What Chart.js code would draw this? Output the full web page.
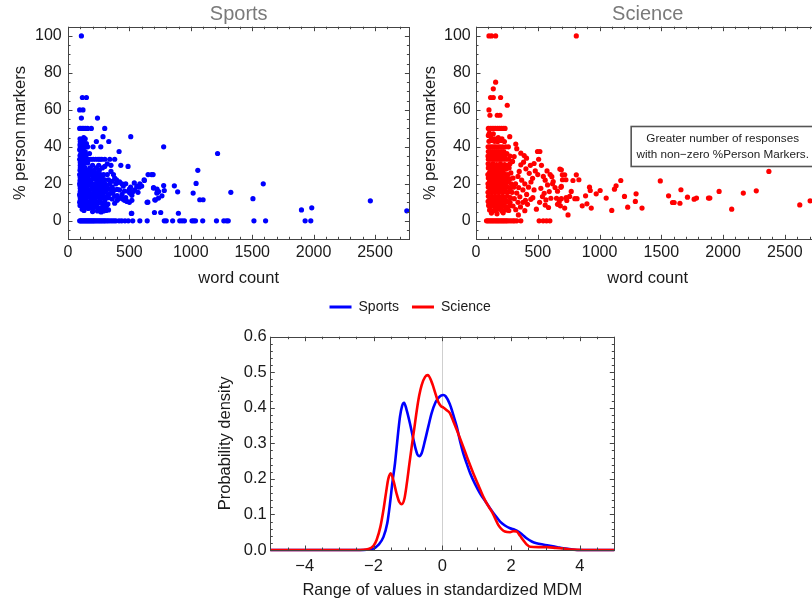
<!DOCTYPE html>
<html>
<head>
<meta charset="utf-8">
<script src="https://cdn.jsdelivr.net/npm/chart.js@4.4.1/dist/chart.umd.min.js"></script>
<style>
html,body{margin:0;padding:0;overflow:hidden;background:#fff;width:812px;height:602px;}
.box{position:absolute;}
canvas{display:block;}
</style>
</head>
<body>
<div class="box" style="left:0;top:0;"><canvas id="c1" width="412" height="300"></canvas></div>
<div class="box" style="left:405px;top:0;"><canvas id="c2" width="417" height="300"></canvas></div>
<div class="box" style="left:206px;top:287px;"><canvas id="c3" width="419" height="315"></canvas></div>
<script>
const FONT = "'Liberation Sans', Arial, sans-serif";

// ---------- data ----------
const wordCountTicks = [0, 500, 1000, 1500, 2000, 2500];
const personPctTicks = [0, 20, 40, 60, 80, 100];
const mdmTicks = [-4, -2, 0, 2, 4];
const densityTicks = [0, 0.1, 0.2, 0.3, 0.4, 0.5, 0.6];
const seriesNames = ['Sports', 'Science'];
const noteLines = ['Greater number of responses', 'with non\u2212zero %Person Markers.'];

// [word count, % person markers]
const sportsPoints = [
 [109,100],
 [117,66.7],[150,66.7],
 [95,60],[122,60],
 [109,55.6],[240,55.6],
 [95,50],[105,50],[118,50],[130,50],[145,50],[160,50],[190,50],[299,50],
 [285,45.5],[128,45],[140,44.4],[511,45.5],[98,44.4],[112,43.5],
 [231,42.9],[332,42.9],[100,42.9],[110,42.9],[125,42.9],[150,41.7],[98,41.2],[125,40.9],
 [204,40],[267,40],[100,40],[115,40],[135,40],[160,40],[779,40],
 [110,38.1],[130,36.8],[416,37.5],[95,38.5],[120,38.5],[140,37.5],[175,36.4],[1218,36.4],[105,36.4],[150,35.7],[98,35.3],[115,35],[135,34.8],
 [95,33.3],[105,33.3],[115,33.3],[125,33.3],[140,33.3],[155,33.3],[170,33.3],[185,33.3],[205,33.3],[225,33.3],[245,33.3],[260,33.3],[275,33.3],[300,33.3],[340,33.3],[380,33.3],
 [100,31.6],[120,31.3],[145,31.8],[430,30],[489,29.4],[299,29.4],[320,30.8],[350,30],[100,30],[130,30.8],[160,31.3],[200,30],[250,30],
 [280,28.6],[230,28.6],[100,28.6],[115,28.6],[140,28.6],[180,28.6],[210,27.3],[255,27.3],[1057,27.3],[98,27.3],[110,26.3],[125,27.8],[140,26.7],[155,27.3],[175,27.3],[190,26.7],[235,26.1],[350,26.7],
 [95,25],[105,25],[115,25],[125,25],[140,25],[155,25],[170,25],[190,25],[215,25],[240,25],[265,25],[290,25],[320,25],[370,25],[652,25],[680,25],[693,25],
 [100,24],[115,23.5],[130,24.2],[145,23.8],[205,23.5],[220,24],[250,23.5],[280,24.1],[380,23.1],[100,23.1],[135,23.5],[165,23.1],[265,22.7],[200,22.7],[230,22.2],[280,22.2],[300,22.2],[330,22.2],[395,22.2],[620,22.2],[622,21.8],
 [98,21.7],[110,22.2],[125,21.4],[140,22.7],[160,22.2],[360,21.4],[410,20.8],[420,21.1],[115,21.4],[150,21.1],[185,21.7],[250,21.7],
 [95,20],[105,20],[120,20],[135,20],[150,20],[165,20],[180,20],[200,20],[220,20],[245,20],[270,20],[300,20],[340,20],[390,20],[440,20],[470,20],[540,20.5],[585,20],[1043,20.2],[1590,20],
 [98,19],[112,18.8],[128,19.4],[142,18.5],[158,19],[190,19],[210,18.2],[230,18.8],[255,19],[280,18.2],[310,17.9],[320,19],[360,18.2],[450,18.8],[510,18.2],[580,18.2],[600,18.8],[560,18.6],[697,18],[696,17.7],[779,19.1],[866,18.9],
 [725,17.1],[784,16.4],[738,15.8],[893,15.7],[1019,15],[1326,15.4],[723,15],[765,13.5],
 [100,17.6],[115,16.7],[130,16.7],[145,17.4],[160,16.7],[175,16.7],[195,17.4],[215,16.7],[235,16.7],[260,17.4],[285,16.7],[315,16.7],[345,17.2],[375,16.7],[400,17],[420,16.7],[460,16.1],[490,16],[500,17.2],[530,15.8],[545,16.7],[570,15.4],
 [100,16],[118,16.2],[135,15.8],[150,16],
 [95,14.3],[110,15],[125,14.3],[140,15.4],[155,14.3],[170,15],[190,14.3],[210,15.4],[230,14.3],[255,15],[275,14.3],[300,15.4],[330,14.3],[350,15],[365,15],[400,13.6],[440,14.3],[503,15],[520,13.8],[180,14.8],
 [98,13.6],[112,13.3],[128,13.8],[142,13.3],[160,14],[200,13.8],[220,13],[245,13.8],[290,13.3],[320,12.9],[380,13.3],
 [100,12.5],[115,12.5],[130,11.8],[145,12.5],[160,13.3],[180,12.5],[200,11.8],[225,12.5],[250,13.3],[275,12.5],[265,12],[300,11.1],[330,12.5],[360,11.8],[400,11.1],[410,12],[430,12.5],[445,11.8],[460,11.1],[470,12.5],[520,11.1],[707,11.4],[737,12.3],[711,11.2],[1073,11.4],[1100,11.4],[1506,12],[2462,10.8],
 [100,11.1],[115,10.5],[130,11.4],[148,11.1],[185,10.5],[205,11.1],[225,10.3],[250,10.5],[480,10.5],
 [95,10],[110,9.1],[125,10],[140,9.5],[160,10],[175,9.1],[195,10],[215,8.7],[235,9.1],[260,10],[270,9.5],[295,9.7],[325,9.1],[380,9.5],[500,10],[644,10],[650,10.1],
 [98,8.3],[112,8.7],[125,8.3],[140,7.4],[155,9.1],[190,8],[230,8.5],[285,7.7],[315,8.3],[150,7.7],[180,7.1],[220,7.7],[240,7.1],
 [115,6.3],[130,5.6],[165,6.7],[205,6.7],[260,6.7],[275,6.5],[300,6.3],[330,5.9],[310,5.6],[290,5.3],[200,5],[240,5.3],[270,4.8],
 [516,4],[519,4.1],[704,4.5],[755,4.5],[899,4.1],[1901,5.9],[1985,7],[2759,5.4],
 [95,0],[103,0],[111,0],[119,0],[127,0],[135,0],[143,0],[151,0],[159,0],[167,0],[175,0],[183,0],[191,0],[199,0],[207,0],[215,0],[225,0],[235,0],[245,0],[255,0],[265,0],[275,0],[285,0],[295,0],[305,0],[318,0],[330,0],[345,0],[360,0],[375,0],[390,0],[416,0],[437,0],[464,0],[491,0],[527,0],[585,0],[645,0],[784,0],[800,0],[852,0],[910,0],[929,0],[948,0],[1010,0],[1024,0],[1038,0],[1097,0],[1209,0],[1269,0],[1291,0],[1305,0],[1514,0],[1609,0],[1931,0],[1977,0]
];

const sciencePoints = [
 [105,100],[126,100],[159,100],[812,100],
 [159,75],[140,71.4],[118,66.7],[140,66.7],[199,66.7],[253,62.5],[105,60],[113,57.1],[172,57.1],[194,57.1],
 [100,50],[115,50],[130,50],[145,50],[160,50],[175,50],[190,50],[205,50],[220,50],[235,50],
 [273,45.5],[100,46.2],[120,45.5],[150,44.4],[180,45],[210,44.4],[108,47.4],[140,47.1],
 [105,43],[125,43.5],[150,43],[175,42.9],[200,43.5],[230,42.9],
 [98,40],[112,40],[128,40],[145,40],[160,40],[178,40],[195,40],[215,40],[240,40],[262,40],
 [100,37.5],[115,37.5],[132,37.5],[150,37.5],[168,37.5],[185,37.5],[205,37.5],[225,37.5],[250,36.4],
 [97,35],[110,35.3],[125,35],[140,35.7],[158,35],[175,35.3],[192,35],[212,35.7],[235,35],[275,35],
 [100,33.3],[114,33.3],[128,33.3],[142,33.3],[156,33.3],[170,33.3],[185,33.3],[200,33.3],[218,33.3],[240,33.3],[265,33.3],[296,32.1],
 [98,30.8],[110,30],[124,30.4],[138,30.8],[152,30],[167,30.4],[182,30],[198,30.8],[215,30],[232,30.4],[252,30],[275,30.8],
 [100,28.6],[115,28],[130,28.6],[145,27.8],[160,28.6],[175,28],[190,28.6],[208,27.8],[225,28.6],[245,28],[268,28.6],
 [96,25],[108,25.9],[120,25],[134,25.9],[148,25],[162,25.9],[176,25],[190,25.9],[206,25],[222,25.9],[240,25],[258,25],[282,25.9],
 [100,23.1],[113,22.7],[127,23.1],[141,22.7],[155,23.1],[170,22.7],[185,23.1],[200,22.7],[217,23.1],[235,22.7],[253,23.1],[275,22.7],[300,23.1],
 [97,20],[109,21.1],[122,20],[135,21.1],[149,20],[163,21.1],[178,20],[193,21.1],[208,20],[224,21.1],[242,20],[262,21.1],[285,20],
 [100,18.2],[114,17.6],[128,18.2],[142,17.6],[156,18.2],[171,17.6],[186,18.2],[202,17.6],[219,18.2],[237,17.6],[256,18.2],[278,17.6],[305,18.2],
 [97,15.4],[110,15.8],[123,15.4],[137,15.8],[151,15.4],[166,15.8],[181,15.4],[196,15.8],[212,15.4],[229,15.8],[247,15.4],[268,15.8],[292,15.4],
 [100,13.3],[113,12.5],[127,13.3],[141,12.5],[155,13.3],[170,12.5],[185,13.3],[200,12.5],[217,13.3],[235,12.5],[255,13.3],[278,12.5],
 [98,10.5],[111,10],[125,10.5],[139,10],[153,10.5],[168,10],[183,10.5],[199,10],[216,10.5],[234,10],[254,10.5],[276,10],
 [102,8.3],[117,7.7],[132,8.3],[147,7.7],[162,8.3],[178,7.7],[194,8.3],[212,7.7],[230,8.3],[250,7.1],[272,8.3],
 [110,5.9],[135,5.3],[160,5.6],[185,6.3],[210,5.3],[238,5.9],[265,5.6],[125,4.2],[170,3.8],[220,4.3],
 [322,41.5],[330,39],[309,34.8],[363,36.6],[390,35.3],[409,33.9],[385,31.7],[498,37.5],[517,37.5],[507,33.3],[363,30.3],[350,26.7],[404,28.1],[431,25.7],[458,23],[340,24],[320,20],[345,18],[330,15],[355,13],[340,10],
 [370,22],[395,20],[380,16.7],[410,14.3],[400,11.1],[425,18.2],[445,21],[470,16.7],[460,12.5],[480,27],[500,25],[525,17.6],[552,14.9],[579,19.4],[606,12.2],[593,15.8],[538,13.1],[566,11.3],[489,6.3],[587,7.2],[660,8.9],[343,3.2],[322,6],[417,8.9],[444,11.6],
 [679,28],[614,23.9],[625,21.2],[652,12.2],[674,10.4],[660,16],[700,22.2],[728,22.2],[687,18.1],[640,18],[620,20],[560,22],[545,24],[600,25],[575,27],[530,30],[440,30],[470,31],[360,7.5],[380,10],[300,8],[310,12],[395,5.5],[515,10],[560,8.5],
 [691,27.6],[699,24.9],[718,24.9],[812,24.9],[785,21.8],[833,22.2],[691,18.6],[919,18.2],[925,16.4],[1005,16.4],[771,15.9],[758,13.2],[1121,17.1],[1134,18.9],[1172,21.8],[1296,14.6],[1202,13.2],[1054,12.3],[973,14.6],[887,13.5],[691,12],[730,12.5],[735,11],[800,12],[818,12],[683,8.1],[718,6.9],[860,8.1],[898,9.2],[933,6.9],[745,3.2],[1099,5.6],[1228,7.4],[1290,10.5],[1344,6.9],
 [1492,21.6],[1559,13.5],[1591,9.9],[1604,9.9],[1651,9.5],[1659,16.8],[1712,12.8],[1766,11.7],[1785,12.3],[1882,12.3],[1893,12.3],[1968,15.9],[2070,6.3],[2164,15],[2269,16.2],[2371,26.7],[2621,8.6],[2705,10.8],
 [85,0],[95,0],[105,0],[115,0],[125,0],[135,0],[145,0],[155,0],[165,0],[175,0],[185,0],[195,0],[205,0],[215,0],[225,0],[235,0],[245,0],[255,0],[270,0],[285,0],[300,0],[312,0],[330,0],[363,0],[511,0],[544,0],[571,0],[598,0]
];

// [standardized MDM, probability density]
const sportsDensity = [
 [-5,0],[-2.4,0],[-2.05,0.002],[-1.85,0.015],[-1.71,0.037],[-1.6,0.075],[-1.52,0.131],[-1.45,0.19],[-1.375,0.244],[-1.3,0.315],[-1.23,0.375],[-1.17,0.405],[-1.11,0.414],[-1.04,0.395],[-0.94,0.356],[-0.86,0.32],[-0.79,0.29],[-0.72,0.268],[-0.67,0.264],[-0.6,0.272],[-0.5,0.309],[-0.4,0.35],[-0.31,0.385],[-0.2,0.415],[-0.12,0.427],[-0.04,0.434],[0.03,0.436],[0.1,0.432],[0.22,0.41],[0.32,0.38],[0.42,0.347],[0.52,0.305],[0.61,0.272],[0.71,0.243],[0.81,0.216],[0.95,0.186],[1.1,0.159],[1.25,0.137],[1.39,0.117],[1.54,0.097],[1.68,0.08],[1.82,0.069],[1.97,0.061],[2.1,0.057],[2.21,0.052],[2.33,0.043],[2.45,0.033],[2.6,0.024],[2.74,0.019],[2.95,0.015],[3.13,0.012],[3.35,0.008],[3.52,0.005],[3.75,0.002],[4.0,0],[5,0]
];
const scienceDensity = [
 [-5,0],[-2.5,0],[-2.15,0.003],[-2.0,0.012],[-1.91,0.028],[-1.8,0.065],[-1.71,0.113],[-1.63,0.165],[-1.57,0.2],[-1.5,0.216],[-1.42,0.195],[-1.33,0.159],[-1.25,0.135],[-1.18,0.129],[-1.1,0.145],[-1.03,0.188],[-0.96,0.24],[-0.89,0.29],[-0.81,0.345],[-0.74,0.394],[-0.67,0.435],[-0.6,0.464],[-0.5,0.487],[-0.42,0.492],[-0.34,0.48],[-0.26,0.459],[-0.19,0.437],[-0.12,0.417],[-0.04,0.405],[0.03,0.401],[0.12,0.394],[0.22,0.385],[0.32,0.362],[0.42,0.338],[0.52,0.313],[0.61,0.29],[0.75,0.253],[0.9,0.216],[1.05,0.182],[1.19,0.15],[1.32,0.126],[1.44,0.108],[1.54,0.088],[1.63,0.07],[1.73,0.058],[1.82,0.052],[1.97,0.05],[2.07,0.053],[2.16,0.052],[2.26,0.04],[2.35,0.028],[2.45,0.016],[2.55,0.009],[2.8,0.008],[3.03,0.008],[3.3,0.006],[3.52,0.004],[3.8,0.001],[4.1,0],[5,0]
];

// ---------- plugins ----------
const mmaFrame = {
  id: 'mmaFrame',
  beforeDatasetsDraw(chart, args, o) {
    if (o.zeroLine === undefined || o.zeroLine === null) return;
    const {ctx, chartArea: a, scales: {x}} = chart;
    const px = Math.round(x.getPixelForValue(o.zeroLine)) + 0.5;
    ctx.save();
    ctx.strokeStyle = '#cfcfcf'; ctx.lineWidth = 1;
    ctx.beginPath(); ctx.moveTo(px, a.top); ctx.lineTo(px, a.bottom); ctx.stroke();
    ctx.restore();
  },
  afterDatasetsDraw(chart, args, o) {
    const {ctx, chartArea: a, scales: {x, y}} = chart;
    ctx.save();
    ctx.strokeStyle = o.color || '#444';
    ctx.lineWidth = 1;
    ctx.beginPath();
    const walk = (sc, minor, major, fn) => {
      const i0 = Math.ceil(sc.min / minor - 1e-9), i1 = Math.floor(sc.max / minor + 1e-9);
      for (let i = i0; i <= i1; i++) {
        const v = i * minor, r = v / major;
        fn(sc.getPixelForValue(v), Math.abs(r - Math.round(r)) < 1e-6 ? o.major : o.minor);
      }
    };
    walk(x, o.xMinor, o.xMajor, (p, len) => {
      p = Math.round(p) + 0.5;
      ctx.moveTo(p, a.bottom); ctx.lineTo(p, a.bottom - len);
      ctx.moveTo(p, a.top); ctx.lineTo(p, a.top + len);
    });
    walk(y, o.yMinor, o.yMajor, (p, len) => {
      p = Math.round(p) + 0.5;
      ctx.moveTo(a.left, p); ctx.lineTo(a.left + len, p);
      ctx.moveTo(a.right, p); ctx.lineTo(a.right - len, p);
    });
    ctx.stroke();
    ctx.strokeRect(Math.round(a.left) + 0.5, Math.round(a.top) + 0.5, Math.round(a.right) - Math.round(a.left), Math.round(a.bottom) - Math.round(a.top));
    ctx.restore();
  }
};

const noteBox = {
  id: 'noteBox',
  afterDraw(chart, args, o) {
    if (!o || !o.lines) return;
    const {ctx, scales: {x, y}} = chart;
    const cx = x.getPixelForValue(o.at[0]), cy = y.getPixelForValue(o.at[1]);
    ctx.save();
    ctx.fillStyle = '#fff';
    ctx.fillRect(cx - o.w / 2, cy - o.h / 2, o.w, o.h);
    ctx.strokeStyle = '#555'; ctx.lineWidth = 1.6;
    ctx.strokeRect(cx - o.w / 2, cy - o.h / 2, o.w, o.h);
    ctx.fillStyle = '#222';
    ctx.font = o.size + 'px ' + FONT;
    ctx.textAlign = 'center'; ctx.textBaseline = 'middle';
    o.lines.forEach((t, i) => ctx.fillText(t, cx, cy + (i - (o.lines.length - 1) / 2) * o.gap));
    ctx.restore();
  }
};

function fixedTicks(values) {
  return (scale) => { scale.ticks = values.map(v => ({value: v})); };
}
const minusFmt = (v) => (v < 0 ? '\u2212' + Math.abs(v) : String(v));

function scatterConfig(points, color, title, yTitlePadTop, yTickPad, yWidth, extra) {
  return {
    type: 'scatter',
    data: { datasets: [{ data: points.map(p => ({x: p[0], y: p[1]})), backgroundColor: color, borderWidth: 0, pointRadius: 2.6, pointHoverRadius: 2.6 }] },
    options: {
      responsive: false, animation: false, events: [],
      layout: { padding: { top: 0, right: 2.5, bottom: 0, left: 0 } },
      plugins: {
        legend: { display: false }, tooltip: { enabled: false },
        title: { display: true, text: title, fullSize: false, color: '#7a7a7a', font: { family: FONT, size: 20, weight: 'normal' }, padding: { top: 2, bottom: 0.7 } },
        mmaFrame: { color: '#444', xMinor: 100, xMajor: 500, yMinor: 5, yMajor: 20, major: 4.5, minor: 2.5 },
        noteBox: extra || {}
      },
      scales: {
        x: {
          type: 'linear', min: 0, max: 2780,
          afterBuildTicks: fixedTicks(wordCountTicks),
          afterFit: (s) => { s.height = 60.7; },
          grid: { display: false, drawTicks: false }, border: { display: false },
          ticks: { color: '#1a1a1a', font: { family: FONT, size: 16 }, padding: 4, maxRotation: 0, callback: minusFmt },
          title: { display: true, text: 'word count', color: '#1a1a1a', font: { family: FONT, size: 16.5 }, padding: { top: 0, bottom: 11.8 } }
        },
        y: {
          type: 'linear', min: -10, max: 105,
          afterBuildTicks: fixedTicks(personPctTicks),
          afterFit: (s) => { s.width = yWidth; },
          grid: { display: false, drawTicks: false }, border: { display: false },
          ticks: { color: '#1a1a1a', font: { family: FONT, size: 16 }, padding: yTickPad, callback: minusFmt },
          title: { display: true, text: '% person markers', color: '#1a1a1a', font: { family: FONT, size: 16.5 }, padding: { top: yTitlePadTop, bottom: 0 } }
        }
      }
    },
    plugins: [mmaFrame, noteBox]
  };
}

new Chart(document.getElementById('c1'), scatterConfig(sportsPoints, '#0000ff', seriesNames[0], 10.8, 6.3, 68, null));
new Chart(document.getElementById('c2'), scatterConfig(sciencePoints, '#ff0000', seriesNames[1], 15.1, 5.3, 71,
  { lines: noteLines, at: [1997, 40.2], w: 183, h: 40, size: 11.7, gap: 16 }));

// ---------- density chart ----------
new Chart(document.getElementById('c3'), {
  type: 'line',
  data: {
    datasets: [
      { label: seriesNames[0], data: sportsDensity.map(p => ({x: p[0], y: p[1]})), borderColor: '#0000ff', backgroundColor: '#0000ff', borderWidth: 2.6, pointRadius: 0, tension: 0.4, cubicInterpolationMode: 'monotone', fill: false, order: 1, clip: 4 },
      { label: seriesNames[1], data: scienceDensity.map(p => ({x: p[0], y: p[1]})), borderColor: '#ff0000', backgroundColor: '#ff0000', borderWidth: 2.6, pointRadius: 0, tension: 0.4, cubicInterpolationMode: 'monotone', fill: false, order: 0, clip: 4 }
    ]
  },
  options: {
    responsive: false, animation: false, events: [],
    layout: { padding: { top: 0, right: 10.7, bottom: 0, left: 0 } },
    plugins: {
      tooltip: { enabled: false },
      legend: {
        display: true, position: 'top', weight: 3000,
        labels: {
          color: '#1a1a1a', font: { family: FONT, size: 14 }, boxWidth: 22, boxHeight: 3, padding: 13,
          sort: (a, b) => a.datasetIndex - b.datasetIndex,
          generateLabels: (chart) => Chart.defaults.plugins.legend.labels.generateLabels(chart).map(it => Object.assign(it, { lineWidth: 0, fillStyle: it.strokeStyle }))
        }
      },
      title: { display: true, text: '', font: { family: FONT, size: 10 }, padding: { top: 0, bottom: 0.7 } },
      mmaFrame: { color: '#444', xMinor: 0.5, xMajor: 2, yMinor: 0.02, yMajor: 0.1, major: 4.5, minor: 2.5, zeroLine: 0 }
    },
    scales: {
      x: {
        type: 'linear', min: -5, max: 5,
        afterBuildTicks: fixedTicks(mdmTicks),
        afterFit: (s) => { s.height = 52; },
        grid: { display: false, drawTicks: false }, border: { display: false },
        ticks: { color: '#1a1a1a', font: { family: FONT, size: 16.5 }, padding: 7, maxRotation: 0, callback: minusFmt },
        title: { display: true, text: 'Range of values in standardized MDM', color: '#1a1a1a', font: { family: FONT, size: 16.5 }, padding: { top: 0, bottom: 2.1 } }
      },
      y: {
        type: 'linear', min: 0, max: 0.6,
        afterBuildTicks: fixedTicks(densityTicks),
        afterFit: (s) => { s.width = 64.3; },
        grid: { display: false, drawTicks: false }, border: { display: false },
        ticks: { color: '#1a1a1a', font: { family: FONT, size: 16.5 }, padding: 3.6, callback: (v) => Number(v).toFixed(1) },
        title: { display: true, text: 'Probability density', color: '#1a1a1a', font: { family: FONT, size: 16.5 }, padding: { top: 9.1, bottom: 0 } }
      }
    }
  },
  plugins: [mmaFrame]
});
</script>
</body>
</html>
